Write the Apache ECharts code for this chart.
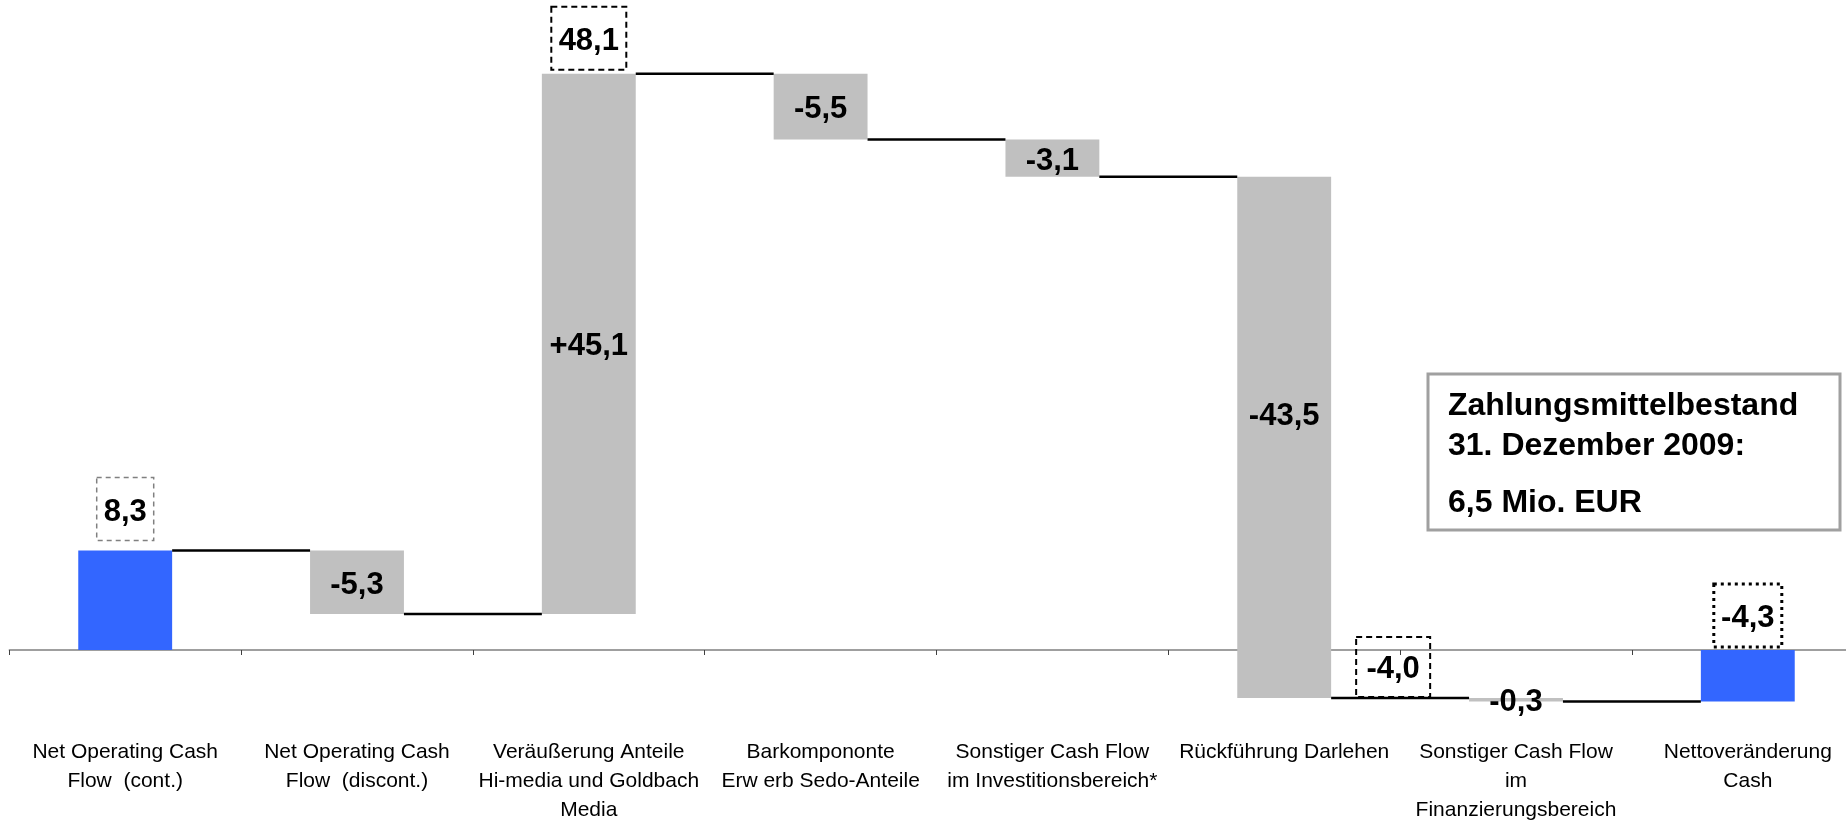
<!DOCTYPE html>
<html>
<head>
<meta charset="utf-8">
<script src="https://cdn.jsdelivr.net/npm/echarts@6/dist/echarts.min.js"></script>
<style>
  html, body { margin: 0; padding: 0; background: #fff; }
  #chart { width: 1846px; height: 824px; }
</style>
</head>
<body>
<div id="chart"></div>
<script>
// ---------- data ----------
const categories = [
  'Net Operating Cash\nFlow  (cont.)',
  'Net Operating Cash\nFlow  (discont.)',
  'Veräußerung Anteile\nHi-media und Goldbach\nMedia',
  'Barkompononte\nErw erb Sedo-Anteile',
  'Sonstiger Cash Flow\nim Investitionsbereich*',
  'Rückführung Darlehen',
  'Sonstiger Cash Flow\nim\nFinanzierungsbereich',
  'Nettoveränderung\nCash'
];
const startTotal = 8.3;                                   // first (total) bar
const changes = [-5.3, 45.1, -5.5, -3.1, -43.5, -0.3];    // step bars
const netChange = -4.3;                                   // last (total) bar
const calloutIndex = [0, 2, 5, 7];                        // bars whose level is shown in a box
const boxTitle = ['Zahlungsmittelbestand', '31. Dezember 2009:', '6,5 Mio. EUR'];

// ---------- derived ----------
const r1 = v => Math.round(v * 10) / 10;
const fmt = (v, sign) => (sign && v > 0 ? '+' : '') + v.toFixed(1).replace('.', ',');
const bars = [];
bars.push({ start: 0, end: startTotal, total: true });
let cum = startTotal;
changes.forEach(d => { const s = cum; cum = r1(cum + d); bars.push({ start: s, end: cum, total: false, delta: d }); });
bars.push({ start: 0, end: netChange, total: true });

const BLUE = '#3366FF', GREY = '#C0C0C0';
const FONT = '"Liberation Sans", Arial, sans-serif';
const BAR_RATIO = 0.405;

const barData = bars.map((b, i) => [i, b.start, b.end, b.total ? 1 : 0, b.total ? '' : fmt(b.delta, true)]);
const connData = bars.slice(0, -1).map((b, i) => [i, b.end]);
const calloutData = calloutIndex.map(i => [i, bars[i].end, fmt(bars[i].end, false)]);

// callout styling (by bar index)
const calloutStyle = {
  0: { w: 57, h: 63, place: 'aboveEnd', gap: 10, dx: 0, stroke: '#808080', dash: [5, 4], lw: 1.5 },
  2: { w: 75, h: 63, place: 'aboveEnd', gap: 4, dx: 0, stroke: '#000', dash: [6, 4], lw: 2 },
  5: { w: 74, h: 60, place: 'aboveEnd', gap: 1, dx: 0.47, stroke: '#000', dash: [6, 4], lw: 2 },
  7: { w: 68, h: 63, place: 'aboveZero', gap: 3, dx: 0, stroke: '#000', dash: [3, 4], lw: 3 }
};

const chart = echarts.init(document.getElementById('chart'), null, { renderer: 'canvas' });

// y range: -6 .. 52 ; zero line at y = 650, 11.98 px per unit
const option = {
  animation: false,
  backgroundColor: '#fff',
  grid: { left: 9.3, right: -17.7, top: 27, bottom: 102.1, containLabel: false, outerBoundsMode: 'none' },
  xAxis: {
    type: 'category',
    data: categories,
    boundaryGap: true,
    axisLine: { show: true, onZero: true, lineStyle: { color: '#808080', width: 1.5 } },
    axisTick: { show: true, length: 5, lineStyle: { color: '#404040', width: 1 } },
    axisLabel: { interval: 0, margin: 16, fontSize: 21, lineHeight: 29, color: '#000', fontFamily: FONT },
    splitLine: { show: false }
  },
  yAxis: {
    type: 'value', min: -6, max: 52, show: false,
    splitLine: { show: false }
  },
  series: [
    {
      type: 'custom',
      name: 'bars',
      data: barData,
      z: 2,
      clip: false,
      renderItem: function (params, api) {
        const i = api.value(0), s = api.value(1), e = api.value(2);
        const isTotal = api.value(3) === 1;
        const lbl = barData[params.dataIndex][4];
        const catW = api.size([1, 0])[0];
        const bw = catW * BAR_RATIO;
        const p1 = api.coord([i, Math.max(s, e)]);
        const p2 = api.coord([i, Math.min(s, e)]);
        const children = [{
          type: 'rect',
          shape: { x: p1[0] - bw / 2, y: p1[1], width: bw, height: Math.max(p2[1] - p1[1], 1) },
          style: { fill: isTotal ? BLUE : GREY }
        }];
        if (lbl) {
          const hi = Math.max(s, e), lo = Math.min(s, e);
          const mid = (hi > 0 && lo < 0) ? hi / 2 : (hi + lo) / 2;
          const pm = api.coord([i, mid]);
          children.push({
            type: 'text',
            x: pm[0], y: pm[1] + 3,
            style: { text: lbl, font: 'bold 31px ' + FONT, fill: '#000', align: 'center', verticalAlign: 'middle' },
            z2: 10
          });
        }
        return { type: 'group', children: children };
      }
    },
    {
      type: 'custom',
      name: 'connectors',
      data: connData,
      z: 3,
      clip: false,
      renderItem: function (params, api) {
        const i = api.value(0), v = api.value(1);
        const catW = api.size([1, 0])[0];
        const bw = catW * BAR_RATIO;
        const a = api.coord([i, v]);
        const b = api.coord([i + 1, v]);
        return {
          type: 'line',
          shape: { x1: a[0] + bw / 2, y1: a[1], x2: b[0] - bw / 2, y2: b[1] },
          style: { stroke: '#000', lineWidth: 2.5 }
        };
      }
    },
    {
      type: 'custom',
      name: 'callouts',
      data: calloutData,
      z: 4,
      clip: false,
      renderItem: function (params, api) {
        const i = api.value(0), v = api.value(1);
        const txt = calloutData[params.dataIndex][2];
        const st = calloutStyle[i];
        const catW = api.size([1, 0])[0];
        const base = api.coord([i, st.place === 'aboveZero' ? 0 : v]);
        const cx = base[0] + st.dx * catW;
        const bottom = base[1] - st.gap;
        const top = bottom - st.h;
        return {
          type: 'group',
          children: [
            {
              type: 'rect',
              shape: { x: cx - st.w / 2, y: top, width: st.w, height: st.h },
              style: { fill: 'rgba(255,255,255,0)', stroke: st.stroke, lineWidth: st.lw, lineDash: st.dash }
            },
            {
              type: 'text',
              x: cx, y: top + st.h / 2 + 3,
              style: { text: txt, font: 'bold 31px ' + FONT, fill: '#000', align: 'center', verticalAlign: 'middle' }
            }
          ]
        };
      }
    }
  ],
  graphic: [
    {
      type: 'rect',
      shape: { x: 1428, y: 374, width: 412, height: 156 },
      style: { fill: '#fff', stroke: '#a0a0a0', lineWidth: 3 },
      z: 10
    },
    { type: 'text', x: 1448, y: 406, z: 11, style: { text: boxTitle[0], font: 'bold 32px ' + FONT, fill: '#000', verticalAlign: 'middle' } },
    { type: 'text', x: 1448, y: 446, z: 11, style: { text: boxTitle[1], font: 'bold 32px ' + FONT, fill: '#000', verticalAlign: 'middle' } },
    { type: 'text', x: 1448, y: 503, z: 11, style: { text: boxTitle[2], font: 'bold 32px ' + FONT, fill: '#000', verticalAlign: 'middle' } }
  ]
};
chart.setOption(option);
</script>
</body>
</html>
